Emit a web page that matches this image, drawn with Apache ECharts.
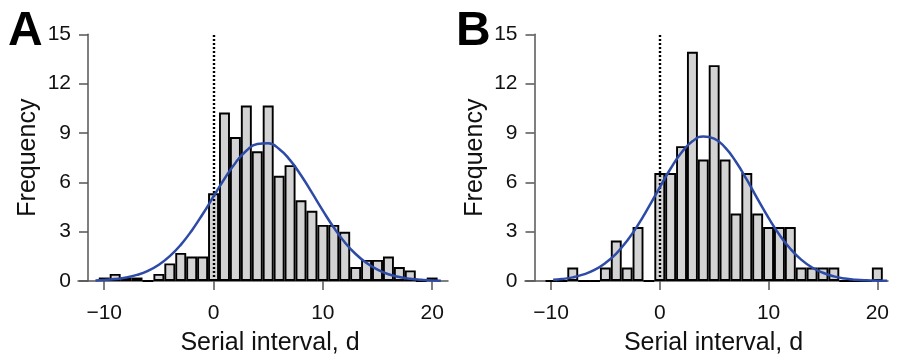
<!DOCTYPE html>
<html>
<head>
<meta charset="utf-8">
<script src="https://cdn.jsdelivr.net/npm/echarts@6/dist/echarts.min.js"></script>
<style>html,body{margin:0;padding:0;background:#fff}#c{width:900px;height:361px}</style>
</head>
<body>
<div id="c"></div>
<script>
// ---- data ----
const binCenters = [-10,-9,-8,-7,-6,-5,-4,-3,-2,-1,0,1,2,3,4,5,6,7,8,9,10,11,12,13,14,15,16,17,18,19,20];
const freqA = [0.21,0.43,0.21,0.21,0,0.43,1.07,1.71,1.49,1.49,5.33,10.24,8.75,10.67,7.89,10.67,6.4,7.04,4.91,4.27,3.41,3.41,2.99,0.85,1.28,1.28,1.49,0.85,0.64,0,0.21];
const freqB = [0,0,0.82,0,0,0.82,2.46,0.82,3.28,0,6.56,6.56,8.2,13.94,7.38,13.12,7.38,4.1,6.56,4.1,3.28,3.28,3.28,0.82,0.82,0.82,0.82,0,0,0,0.82];

const curveAx = [-10.8,-10,-9,-8,-7,-6,-5,-4,-3,-2,-1,0,1,2,3,4,5,6,7,8,9,10,11,12,13,14,15,16,17,18,19,20,20.8];
const curveAy = [0.03,0.06,0.12,0.21,0.37,0.62,0.99,1.51,2.20,3.06,4.06,5.14,6.22,7.18,7.92,8.33,8.37,8.03,7.35,6.43,5.37,4.28,3.25,2.36,1.64,1.09,0.69,0.41,0.24,0.13,0.07,0.03,0.02];
const curveBx = [-9.8,-9,-8,-7,-6,-5,-4,-3,-2,-1,0,1,2,3,4,5,6,7,8,9,10,11,12,13,14,15,16,17,18,19,20,20.9];
const curveBy = [0.07,0.12,0.22,0.40,0.67,1.09,1.67,2.45,3.41,4.52,5.69,6.84,7.81,8.49,8.79,8.66,8.12,7.25,6.16,4.98,3.84,2.81,1.96,1.30,0.82,0.50,0.28,0.15,0.08,0.04,0.02,0.01];

const xTicks = [-10, 0, 10, 20];
const yTicks = [0, 3, 6, 9, 12, 15];
const refLineX = 0;
const panelLabels = ['A', 'B'];
const xName = 'Serial interval, d';
const yName = 'Frequency';

// ---- chart ----
const FONT = "'Liberation Sans', Arial, Helvetica, sans-serif";
const AX = '#555';
const pairs = (xs, ys) => xs.map((x, i) => [x, ys[i]]);
const fmt = v => (v < 0 ? '\u2212' + Math.abs(v) : String(v));

function xAxisCfg(gi, min, max) {
  return {
    type: 'value', gridIndex: gi, min: min, max: max,
    name: xName, nameLocation: 'middle', nameGap: 50,
    nameTextStyle: { fontFamily: FONT, fontSize: 25, color: '#111', padding: [0, 0, 0, 14] },
    axisLine: { onZero: false, lineStyle: { color: AX, width: 1.5 } },
    axisTick: { customValues: xTicks, length: 9, lineStyle: { color: AX, width: 1.5 } },
    axisLabel: { customValues: xTicks, margin: 22, fontFamily: FONT, fontSize: 21, color: '#111', formatter: fmt },
    splitLine: { show: false }
  };
}
function yAxisCfg(gi, off) {
  return {
    type: 'value', gridIndex: gi, min: yTicks[0], max: yTicks[yTicks.length - 1], interval: 3,
    offset: off,
    name: yName, nameLocation: 'middle', nameGap: 47,
    nameTextStyle: { fontFamily: FONT, fontSize: 25, color: '#111' },
    axisLine: { show: true, onZero: false, lineStyle: { color: AX, width: 1.5 } },
    axisTick: { show: true, length: 9, lineStyle: { color: AX, width: 1.5 } },
    axisLabel: { margin: 17, fontFamily: FONT, fontSize: 21, color: '#111' },
    splitLine: { show: false }
  };
}
function barSeries(gi, vals) {
  return {
    type: 'bar', xAxisIndex: gi, yAxisIndex: gi,
    data: pairs(binCenters, vals),
    barWidth: '100%', barGap: '-100%',
    itemStyle: { color: '#d3d3d3', borderColor: '#000', borderWidth: 1.9 },
    silent: true, z: 2,
    markLine: {
      symbol: 'none', silent: true, label: { show: false }, z: 4,
      lineStyle: { color: '#000', width: 2.4, type: [2, 2] },
      data: [{ xAxis: refLineX }]
    }
  };
}
function curveSeries(gi, xs, ys) {
  return {
    type: 'line', xAxisIndex: gi, yAxisIndex: gi,
    data: pairs(xs, ys), smooth: true, showSymbol: false, symbol: 'none',
    lineStyle: { color: '#2d4aa6', width: 2.5 }, z: 5, silent: true
  };
}

const chart = echarts.init(document.getElementById('c'), null, { renderer: 'canvas' });
chart.setOption({
  animation: false,
  backgroundColor: '#fff',
  textStyle: { fontFamily: FONT },
  title: [
    { text: panelLabels[0], left: 3, top: 3, textStyle: { fontFamily: FONT, fontSize: 48, fontWeight: 'bold', color: '#000' } },
    { text: panelLabels[1], left: 451, top: 3, textStyle: { fontFamily: FONT, fontSize: 48, fontWeight: 'bold', color: '#000' } }
  ],
  grid: [
    { left: 78, top: 34.3, width: 370, height: 249.2 },
    { left: 525, top: 34.3, width: 363, height: 248.4 }
  ],
  xAxis: [xAxisCfg(0, -12.4, 21.45), xAxisCfg(1, -12.39, 20.98)],
  yAxis: [yAxisCfg(0, -10), yAxisCfg(1, -9.5)],
  series: [
    barSeries(0, freqA), curveSeries(0, curveAx, curveAy),
    barSeries(1, freqB), curveSeries(1, curveBx, curveBy)
  ]
});
</script>
</body>
</html>
